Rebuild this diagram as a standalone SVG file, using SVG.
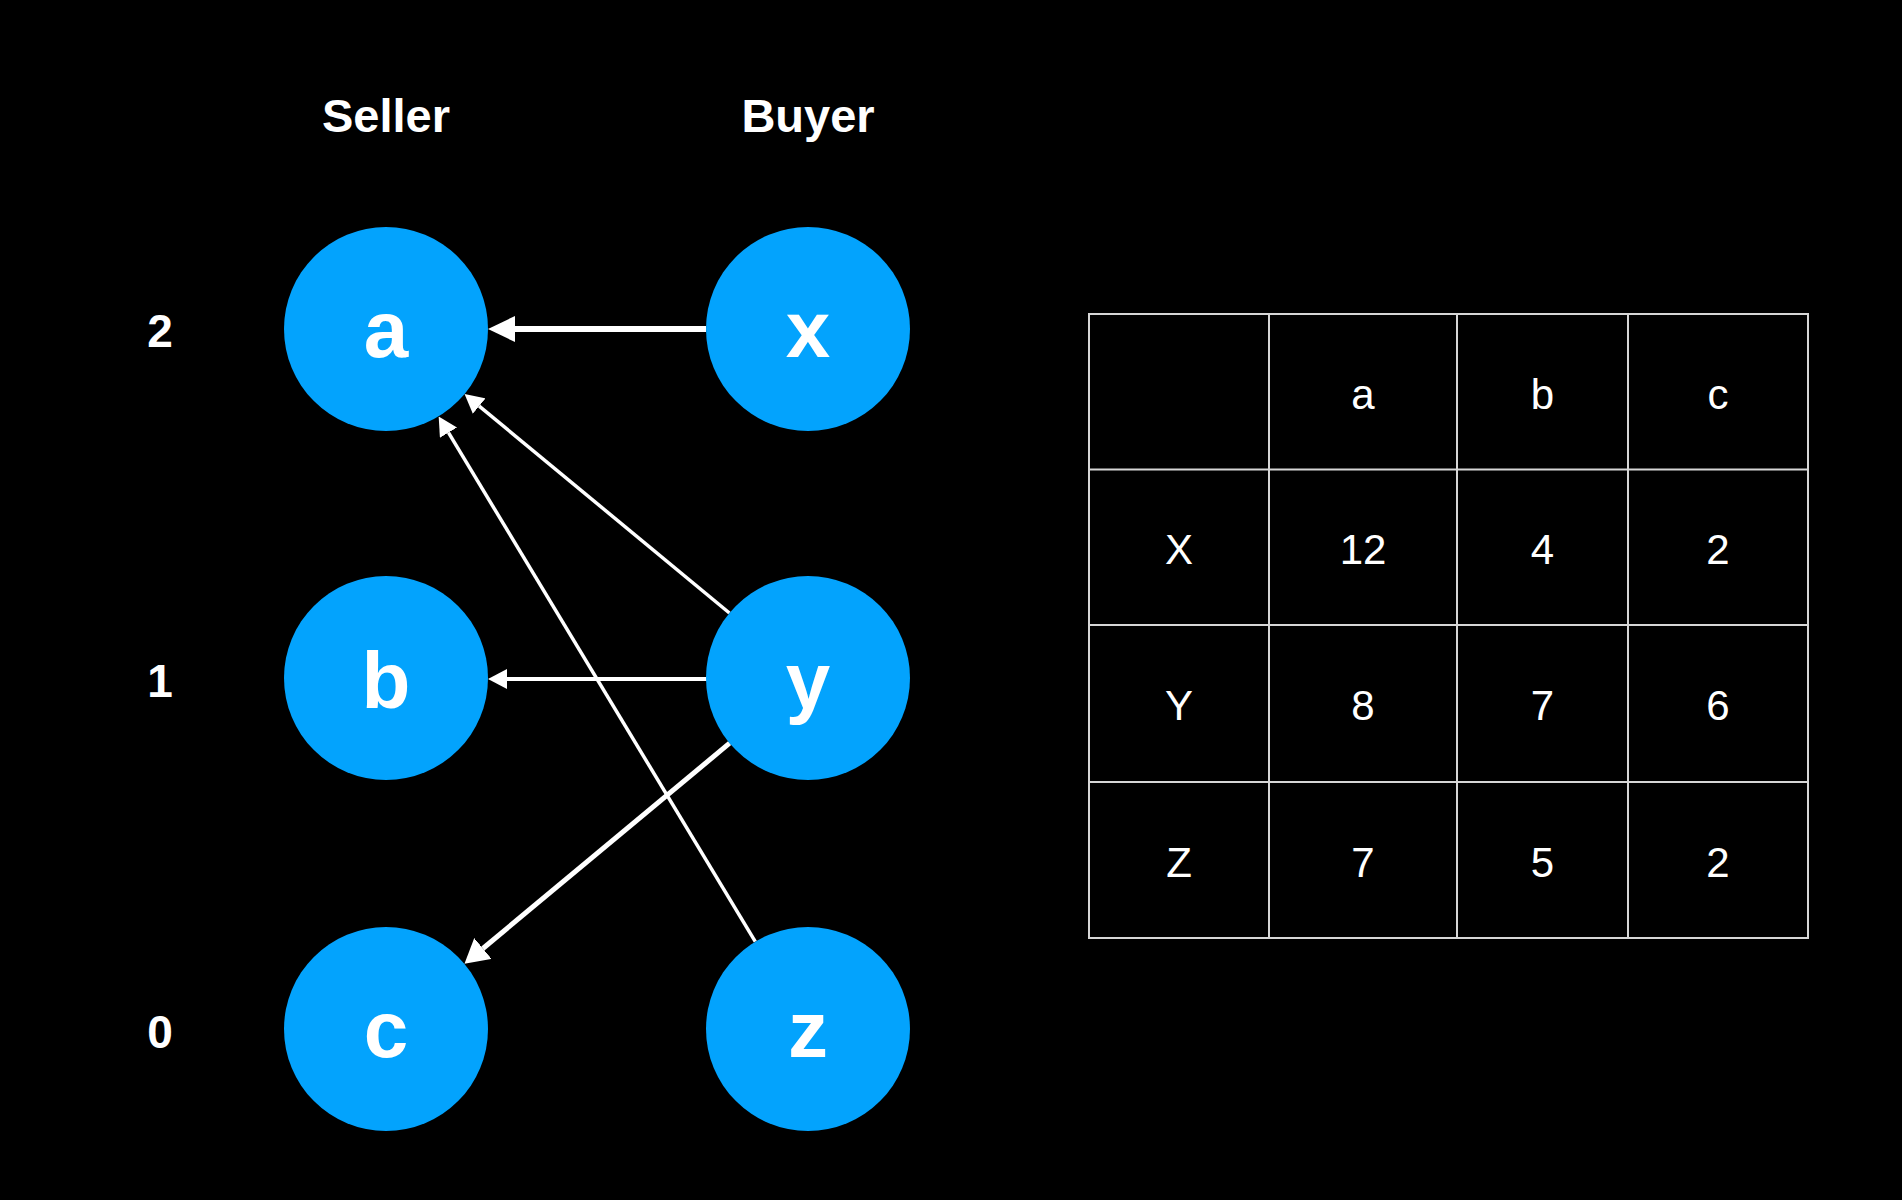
<svg xmlns="http://www.w3.org/2000/svg" width="1902" height="1200" viewBox="0 0 1902 1200">
<style>
.node{fill:#03A3FD}
.nlabel{font-family:"Liberation Sans",Arial,sans-serif;font-weight:bold;font-size:80px;fill:#fff;text-anchor:middle}
.head{font-family:"Liberation Sans",Arial,sans-serif;font-weight:bold;font-size:47px;fill:#fff;text-anchor:middle}
.rank{font-family:"Liberation Sans",Arial,sans-serif;font-weight:bold;font-size:46px;fill:#fff;text-anchor:middle}
.cell{font-family:"Liberation Sans",Arial,sans-serif;font-size:42px;fill:#fff;text-anchor:middle}
.grid{stroke:#d6d6d6;stroke-width:2;fill:none}
.edge{stroke:#fff;fill:none}
</style>
<defs>
<marker id="big" markerUnits="userSpaceOnUse" viewBox="0 0 27 26" markerWidth="27" markerHeight="26" refX="0" refY="13" orient="auto"><path d="M0,0 L27,13 L0,26 z" fill="#fff"/></marker>
<marker id="mid" markerUnits="userSpaceOnUse" viewBox="0 0 24 27" markerWidth="24" markerHeight="27" refX="0" refY="13.5" orient="auto"><path d="M0,0 L24,13.5 L0,27 z" fill="#fff"/></marker>
<marker id="small" markerUnits="userSpaceOnUse" viewBox="0 0 19 20" markerWidth="19" markerHeight="20" refX="0" refY="10" orient="auto"><path d="M0,0 L19,10 L0,20 z" fill="#fff"/></marker>
</defs>
<rect x="0" y="0" width="1902" height="1200" fill="#000"/>

<g id="headers">
<text class="head" x="386" y="132">Seller</text>
<text class="head" x="808" y="132">Buyer</text>
</g>
<g id="ranks">
<text class="rank" x="160" y="347">2</text>
<text class="rank" x="160" y="697">1</text>
<text class="rank" x="160" y="1048">0</text>
</g>

<g id="connectors">
<line class="edge" stroke-width="6" x1="706" y1="329" x2="515" y2="329" marker-end="url(#big)"/>
<line class="edge" stroke-width="4" x1="707" y1="679" x2="507" y2="679" marker-end="url(#small)"/>
<line class="edge" stroke-width="3.5" x1="729.4" y1="613" x2="479.2" y2="406.1" marker-end="url(#small)"/>
<line class="edge" stroke-width="3.5" x1="755.3" y1="941.6" x2="448.5" y2="432.7" marker-end="url(#small)"/>
<line class="edge" stroke-width="5" x1="729.6" y1="743.2" x2="482.9" y2="948.5" marker-end="url(#mid)"/>
</g>

<g id="node-a"><circle class="node" cx="386" cy="329" r="102"/><text class="nlabel" x="386" y="357">a</text></g>
<g id="node-b"><circle class="node" cx="386" cy="678" r="102"/><text class="nlabel" x="386" y="708">b</text></g>
<g id="node-c"><circle class="node" cx="386" cy="1029" r="102"/><text class="nlabel" x="386" y="1057">c</text></g>
<g id="node-x"><circle class="node" cx="808" cy="329" r="102"/><text class="nlabel" x="808" y="357">x</text></g>
<g id="node-y"><circle class="node" cx="808" cy="678" r="102"/><text class="nlabel" x="808" y="708">y</text></g>
<g id="node-z"><circle class="node" cx="808" cy="1029" r="102"/><text class="nlabel" x="808" y="1057">z</text></g>

<g id="table">
<rect class="grid" x="1089" y="314" width="719" height="624"/>
<line class="grid" x1="1269" y1="314" x2="1269" y2="938"/>
<line class="grid" x1="1457" y1="314" x2="1457" y2="938"/>
<line class="grid" x1="1628" y1="314" x2="1628" y2="938"/>
<line class="grid" x1="1089" y1="469.5" x2="1808" y2="469.5"/>
<line class="grid" x1="1089" y1="625" x2="1808" y2="625"/>
<line class="grid" x1="1089" y1="782" x2="1808" y2="782"/>
<text class="cell" x="1363" y="409">a</text>
<text class="cell" x="1542.5" y="409">b</text>
<text class="cell" x="1718" y="409">c</text>
<text class="cell" x="1179" y="564">X</text>
<text class="cell" x="1363" y="564">12</text>
<text class="cell" x="1542.5" y="564">4</text>
<text class="cell" x="1718" y="564">2</text>
<text class="cell" x="1179" y="720">Y</text>
<text class="cell" x="1363" y="720">8</text>
<text class="cell" x="1542.5" y="720">7</text>
<text class="cell" x="1718" y="720">6</text>
<text class="cell" x="1179" y="877">Z</text>
<text class="cell" x="1363" y="877">7</text>
<text class="cell" x="1542.5" y="877">5</text>
<text class="cell" x="1718" y="877">2</text>
</g>
</svg>
